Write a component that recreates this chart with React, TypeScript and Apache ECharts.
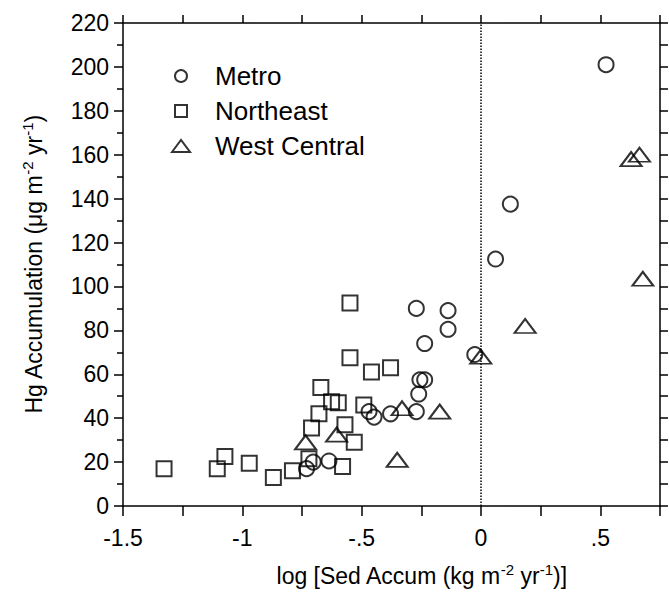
import React, { useEffect, useRef } from "react";
import * as echarts from "echarts";

const seriesNames = ["Metro", "Northeast", "West Central"];

const metro: [number, number][] = [
  [0.524, 201], [0.123, 137.5], [0.061, 112.5], [-0.271, 90], [-0.138, 89],
  [-0.138, 80.5], [-0.236, 74], [-0.026, 69], [-0.256, 57.5], [-0.236, 57.5],
  [-0.261, 51], [-0.469, 43], [-0.448, 40.5], [-0.379, 42], [-0.271, 43],
  [-0.703, 20], [-0.637, 20.5], [-0.731, 17],
];

const northeast: [number, number][] = [
  [-1.328, 17], [-1.105, 17], [-1.073, 22.5], [-0.971, 19.5], [-0.87, 13],
  [-0.79, 16], [-0.721, 21.5], [-0.71, 35.5], [-0.679, 42], [-0.671, 54],
  [-0.626, 47.5], [-0.598, 47], [-0.57, 37], [-0.58, 18], [-0.531, 29],
  [-0.491, 46], [-0.459, 61], [-0.379, 63], [-0.549, 67.5], [-0.549, 92.5],
];

const westCentral: [number, number][] = [
  [0.629, 158], [0.664, 160], [0.678, 103.5], [0.185, 82], [-0.001, 68],
  [-0.331, 44.5], [-0.173, 43], [-0.605, 32.5], [-0.735, 29], [-0.351, 21],
];

const xLabels: Record<string, string> = {
  "-1.5": "-1.5",
  "-1": "-1",
  "-0.5": "-.5",
  "0": "0",
  "0.5": ".5",
};

const FONT = "'Liberation Sans', Arial, Helvetica, sans-serif";
const SQUARE = "path://M0,0L10,0L10,10L0,10Z";
const TRIANGLE = "path://M0,14L10.5,0L21,14Z";

const hollow = { color: "rgba(0,0,0,0)", borderColor: "#000", borderWidth: 2 };

export default function App() {
  const ref = useRef<HTMLDivElement>(null);
  useEffect(() => {
    if (!ref.current) return;
    const chart = echarts.init(ref.current, undefined, { renderer: "svg" });
    const axisLine = { show: true, onZero: false, lineStyle: { color: "#000", width: 1.5 } };
    const rich = {
      a: { fontSize: 23, fontFamily: FONT, color: "#000", lineHeight: 27 },
      s: { fontSize: 15, fontFamily: FONT, color: "#000", verticalAlign: "top", lineHeight: 27 },
    };
    chart.setOption({
      animation: false,
      backgroundColor: "#fff",
      grid: { left: 123, right: 9, top: 23, bottom: 98, containLabel: false },
      legend: {
        orient: "vertical",
        left: 166,
        top: 58,
        itemWidth: 20,
        itemHeight: 12,
        itemGap: 9,
        symbolKeepAspect: true,
        textStyle: { fontSize: 26, lineHeight: 26, fontFamily: FONT, color: "#000", padding: [0, 0, 0, 19] },
        itemStyle: hollow,
        data: [
          { name: seriesNames[0], icon: "circle" },
          { name: seriesNames[1], icon: SQUARE },
          { name: seriesNames[2], icon: TRIANGLE },
        ],
      },
      xAxis: [
        {
          type: "value",
          min: -1.5,
          max: 0.75,
          interval: 0.25,
          splitLine: { show: false },
          axisLine,
          axisTick: { show: true, length: 10, lineStyle: { color: "#000", width: 1.5 } },
          axisLabel: {
            fontSize: 23,
            fontFamily: FONT,
            color: "#000",
            margin: 20,
            formatter: (v: number) => xLabels[String(v)] ?? "",
          },
          name: "{a|log [Sed Accum (kg m}{s|-2}{a| yr}{s|-1}{a|)]}",
          nameLocation: "middle",
          nameGap: 56,
          nameTextStyle: { rich, padding: [0, 0, 0, 60] },
        },
        {
          type: "value",
          position: "top",
          min: -1.5,
          max: 0.75,
          interval: 0.25,
          splitLine: { show: false },
          axisLine,
          axisTick: { show: true, length: 8, lineStyle: { color: "#000", width: 1.5 } },
          axisLabel: { show: false },
        },
      ],
      yAxis: [
        {
          type: "value",
          min: 0,
          max: 220,
          interval: 20,
          splitLine: { show: false },
          axisLine,
          axisTick: { show: true, length: 9, lineStyle: { color: "#000", width: 1.5 } },
          minorTick: { show: true, splitNumber: 2, length: 6, lineStyle: { color: "#000", width: 1.5 } },
          axisLabel: { fontSize: 23, fontFamily: FONT, color: "#000", margin: 14 },
          name: "{a|Hg Accumulation (μg m}{s|-2}{a| yr}{s|-1}{a|)}",
          nameLocation: "middle",
          nameGap: 76,
          nameRotate: 90,
          nameTextStyle: { rich },
        },
        {
          type: "value",
          position: "right",
          min: 0,
          max: 220,
          interval: 10,
          splitLine: { show: false },
          axisLine,
          axisTick: { show: true, length: 8, lineStyle: { color: "#000", width: 1.5 } },
          axisLabel: { show: false },
        },
      ],
      series: [
        {
          name: seriesNames[0],
          type: "scatter",
          symbol: "circle",
          symbolSize: 15,
          itemStyle: hollow,
          data: metro,
          markLine: {
            silent: true,
            symbol: "none",
            label: { show: false },
            lineStyle: { type: "dotted", color: "#000", width: 1.5 },
            data: [{ xAxis: 0 }],
          },
        },
        {
          name: seriesNames[1],
          type: "scatter",
          symbol: SQUARE,
          symbolSize: 15,
          itemStyle: hollow,
          data: northeast,
        },
        {
          name: seriesNames[2],
          type: "scatter",
          symbol: TRIANGLE,
          symbolSize: [21, 14],
          itemStyle: hollow,
          data: westCentral,
        },
      ],
    });
    return () => chart.dispose();
  }, []);
  return (
    <div
      ref={ref}
      style={{ position: "fixed", left: 0, top: 0, width: 669, height: 604 }}
    />
  );
}
